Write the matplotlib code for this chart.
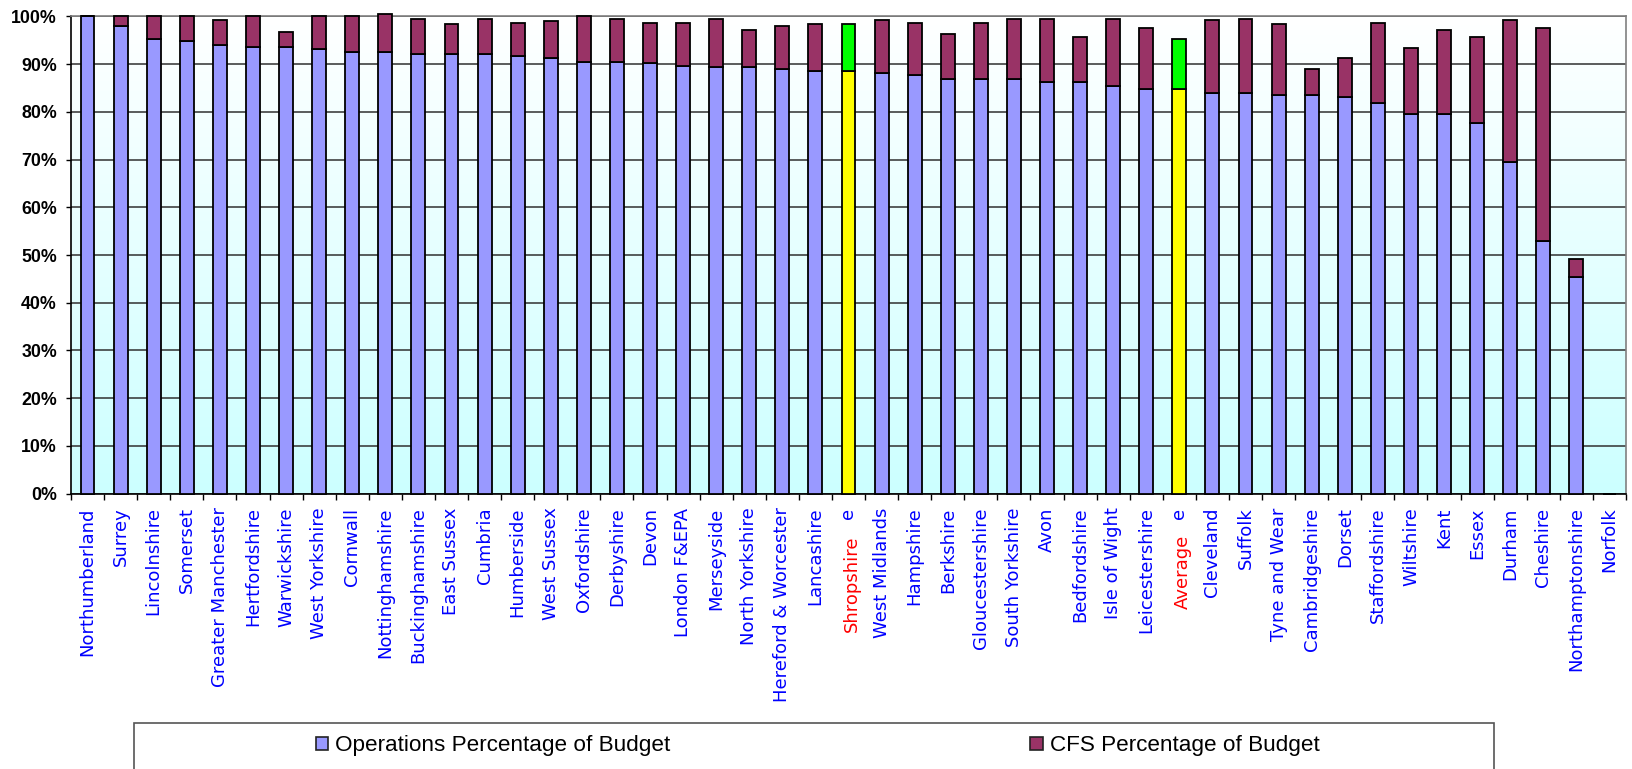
import numpy as np
import matplotlib
matplotlib.use("Agg")
import matplotlib.pyplot as plt
import matplotlib.transforms as mtransforms
from matplotlib.colors import LinearSegmentedColormap
from matplotlib.patches import Rectangle
from matplotlib.ticker import FixedLocator, MultipleLocator, PercentFormatter

# Fire brigades, ordered by share of budget spent on operations
brigades = [
    "Northumberland", "Surrey", "Lincolnshire", "Somerset", "Greater Manchester",
    "Hertfordshire", "Warwickshire", "West Yorkshire", "Cornwall", "Nottinghamshire",
    "Buckinghamshire", "East Sussex", "Cumbria", "Humberside", "West Sussex",
    "Oxfordshire", "Derbyshire", "Devon", "London F&EPA", "Merseyside",
    "North Yorkshire", "Hereford & Worcester", "Lancashire", "Shropshire",
    "West Midlands", "Hampshire", "Berkshire", "Gloucestershire", "South Yorkshire",
    "Avon", "Bedfordshire", "Isle of Wight", "Leicestershire", "Average",
    "Cleveland", "Suffolk", "Tyne and Wear", "Cambridgeshire", "Dorset",
    "Staffordshire", "Wiltshire", "Kent", "Essex", "Durham", "Cheshire",
    "Northamptonshire", "Norfolk",
]

# Operations share of budget (%)
operations = [
    100.0, 98.0, 95.3, 94.8, 94.0, 93.6, 93.6, 93.2, 92.5, 92.5,
    92.1, 92.1, 92.1, 91.7, 91.2, 90.5, 90.5, 90.2, 89.7, 89.4,
    89.4, 89.0, 88.6, 88.6, 88.2, 87.8, 87.0, 87.0, 87.0, 86.3,
    86.3, 85.4, 84.7, 84.7, 83.9, 83.9, 83.5, 83.5, 83.1, 81.9,
    79.6, 79.6, 77.7, 69.4, 53.0, 45.3, 0.0,
]

# Community fire safety share of budget (%)
cfs = [
    0.0, 2.0, 4.7, 5.2, 5.2, 6.4, 3.2, 6.8, 7.5, 8.1,
    7.4, 6.3, 7.4, 7.0, 7.9, 9.5, 9.0, 8.5, 9.0, 10.1,
    7.7, 9.0, 9.8, 9.8, 11.0, 10.9, 9.4, 11.7, 12.5, 13.2,
    9.4, 14.1, 12.9, 10.5, 15.3, 15.6, 14.9, 5.5, 8.2, 16.8,
    13.7, 17.6, 18.0, 29.8, 44.6, 3.9, 0.0,
]

highlighted = ["Shropshire", "Average"]
series_labels = ["Operations Percentage of Budget", "CFS Percentage of Budget"]

OPS_COLOR, CFS_COLOR = "#9999FF", "#993366"
OPS_HL, CFS_HL = "#FFFF00", "#00FF00"
LABEL_BLUE, LABEL_RED = "#0000FF", "#FF0000"
LABEL_FONT = dict(fontfamily="DejaVu Sans", fontsize=13)

W, H = 1633, 769
fig = plt.figure(figsize=(W / 100, H / 100), dpi=100)
fig.patch.set_facecolor("white")

ax_left, ax_right, ax_top, ax_bottom = 71, 1626, 16.5, 493.5
ax = fig.add_axes([ax_left / W, (H - ax_bottom) / H,
                   (ax_right - ax_left) / W, (ax_bottom - ax_top) / H])

# Plot-area fill: light cyan at the bottom fading to white at the top
grad = LinearSegmentedColormap.from_list("plotfill", ["#CCFFFF", "#FFFFFF"])
ax.imshow(np.linspace(0, 1, 256).reshape(-1, 1), extent=[0, 1, 0, 1],
          transform=ax.transAxes, cmap=grad, origin="lower",
          aspect="auto", zorder=-1)

x = np.arange(len(brigades))
ops_colors = [OPS_HL if b in highlighted else OPS_COLOR for b in brigades]
cfs_colors = [CFS_HL if b in highlighted else CFS_COLOR for b in brigades]

bar_kw = dict(width=0.42, edgecolor="black", linewidth=1.3, zorder=3, clip_on=False)
ax.bar(x, operations, color=ops_colors, **bar_kw)
ax.bar(x, cfs, bottom=operations, color=cfs_colors, **bar_kw)

ax.set_xlim(-0.5, len(brigades) - 0.5)
ax.set_ylim(0, 100)

# Y axis: percentages every 10%
ax.yaxis.set_major_locator(MultipleLocator(10))
ax.yaxis.set_major_formatter(PercentFormatter(100, decimals=0))
ax.yaxis.grid(True, color="#303030", linewidth=1.1)
ax.set_axisbelow(True)
ax.tick_params(axis="y", direction="out", length=3.6, width=1, pad=6.5, colors="black")
for lab in ax.get_yticklabels():
    lab.set_fontfamily("Liberation Sans")
    lab.set_fontweight("bold")
    lab.set_fontsize(12.8)

# X axis: category names (highlighted ones get their own captions below),
# ticks at category boundaries
tick_labels = ["" if b in highlighted else b for b in brigades]
ax.set_xticks(x, labels=tick_labels)
ax.xaxis.set_minor_locator(FixedLocator(np.arange(-0.5, len(brigades), 1.0)))
ax.tick_params(axis="x", which="major", length=0, pad=10)
ax.tick_params(axis="x", which="minor", direction="out", length=4.5, width=1, color="black")
for lab in ax.get_xticklabels():
    lab.set_rotation(90)
    lab.set_fontfamily(LABEL_FONT["fontfamily"])
    lab.set_fontsize(LABEL_FONT["fontsize"])
    lab.set_color(LABEL_BLUE)
    lab.set_verticalalignment("top")
    lab.set_horizontalalignment("center")

for side in ("left", "bottom"):
    ax.spines[side].set_color("black")
    ax.spines[side].set_linewidth(1.2)
for side in ("top", "right"):
    ax.spines[side].set_color("#808080")
    ax.spines[side].set_linewidth(1.2)

# Highlighted categories: red caption set a little lower, with the last letter
# of the blue axis label still showing above it
blend = mtransforms.blended_transform_factory(ax.transData, fig.transFigure)
for name in highlighted:
    i = brigades.index(name)
    ax.text(i, 1 - 508 / H, name[-1], transform=blend, rotation=90,
            ha="center", va="top", color=LABEL_BLUE, clip_on=False, **LABEL_FONT)
    ax.text(i + 0.1, 1 - 535 / H, name, transform=blend, rotation=90,
            ha="center", va="top", color=LABEL_RED, clip_on=False, **LABEL_FONT)

# Legend
handles = [
    Rectangle((0, 0), 1, 1, facecolor=OPS_COLOR, edgecolor="#222222", linewidth=1.2),
    Rectangle((0, 0), 1, 1, facecolor=CFS_COLOR, edgecolor="#222222", linewidth=1.2),
]
fig.legend(handles, series_labels, loc="center left",
           bbox_to_anchor=(316 / W, 1 - 746 / H), ncol=2, frameon=False,
           prop={"family": "Liberation Sans", "size": 16.2},
           handlelength=0.55, handleheight=0.55, handletextpad=0.3,
           columnspacing=16.0, borderpad=0, borderaxespad=0)
fig.add_artist(Rectangle((134 / W, -0.05), (1494 - 134) / W, (1 - 723 / H) + 0.05,
                         transform=fig.transFigure, fill=False,
                         edgecolor="#555555", linewidth=1.2))

fig.savefig("out.png", dpi=100)
